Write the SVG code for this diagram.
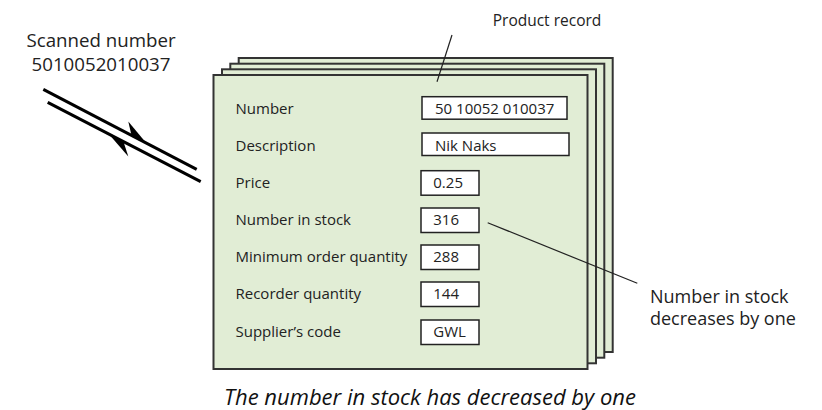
<svg xmlns="http://www.w3.org/2000/svg" width="822" height="410" viewBox="0 0 822 410">
  <style>
    .card { fill: #e1edd5; stroke: #333; stroke-width: 2; }
    .field { fill: #fff; stroke: #222; stroke-width: 1.5; }
    .lbl { font-family: "Open Sans", "Noto Sans", sans-serif; font-size: 15px; fill: #222; }
    .big { font-family: "Open Sans", "Noto Sans", sans-serif; font-size: 18.7px; fill: #222; }
    .note { font-family: "Open Sans", "Noto Sans", sans-serif; font-size: 18px; fill: #222; }
    .cap { font-family: "Open Sans", "Noto Sans", sans-serif; font-size: 22px; font-style: italic; fill: #111; }
    .lead { stroke: #222; stroke-width: 1.2; fill: none; }
    .wire { stroke: #000; stroke-width: 3; fill: none; }
  </style>

  <!-- stack of product record cards, back to front -->
  <g id="record-stack">
    <rect class="card" x="238.7" y="58" width="374" height="294"/>
    <rect class="card" x="230.3" y="63.7" width="374" height="294"/>
    <rect class="card" x="222" y="69.3" width="374" height="294"/>
    <rect class="card" x="213.5" y="75" width="374" height="294"/>
  </g>

  <g id="field-number">
    <text class="lbl" x="235.5" y="114">Number</text>
    <rect class="field" x="422" y="96.7" width="145" height="22.5"/>
    <text class="lbl" x="435" y="114">50 10052 010037</text>
  </g>
  <g id="field-description">
    <text class="lbl" x="235.5" y="150.5">Description</text>
    <rect class="field" x="422" y="133" width="147" height="22.5"/>
    <text class="lbl" x="435" y="150.5">Nik Naks</text>
  </g>
  <g id="field-price">
    <text class="lbl" x="235.5" y="188">Price</text>
    <rect class="field" x="421" y="170.7" width="58" height="24.5"/>
    <text class="lbl" x="433.3" y="188">0.25</text>
  </g>
  <g id="field-stock">
    <text class="lbl" x="235.5" y="225">Number in stock</text>
    <rect class="field" x="421" y="208" width="58" height="24.5"/>
    <text class="lbl" x="433.3" y="225">316</text>
  </g>
  <g id="field-min-order">
    <text class="lbl" x="235.5" y="262">Minimum order quantity</text>
    <rect class="field" x="421" y="245" width="58" height="24.5"/>
    <text class="lbl" x="433.3" y="262">288</text>
  </g>
  <g id="field-reorder">
    <text class="lbl" x="235.5" y="299">Recorder quantity</text>
    <rect class="field" x="421" y="282" width="58" height="24.5"/>
    <text class="lbl" x="433.3" y="299">144</text>
  </g>
  <g id="field-supplier">
    <text class="lbl" x="235.5" y="337">Supplier’s code</text>
    <rect class="field" x="421" y="320" width="58" height="24.5"/>
    <text class="lbl" x="433.3" y="337">GWL</text>
  </g>

  <!-- scanner link: two parallel wires with half arrowheads -->
  <g id="connectors">
    <line class="wire" x1="43.3" y1="89.3" x2="196.7" y2="169.3"/>
    <line class="wire" x1="47.7" y1="102.3" x2="200.7" y2="181.7"/>
    <polygon points="146,142.8 128.3,121.5 131.5,135.5" fill="#000"/>
    <polygon points="109,134.3 128.3,156.5 123.5,141.8" fill="#000"/>
    <line class="lead" x1="452" y1="35" x2="437" y2="81.7"/>
    <line class="lead" x1="487.7" y1="222.7" x2="637.3" y2="283.3"/>
  </g>

  <g id="label-scanned">
    <text class="big" x="101" y="46.7" text-anchor="middle">Scanned number</text>
    <text class="big" x="101" y="70.7" text-anchor="middle">5010052010037</text>
  </g>
  <g id="label-product-record">
    <text class="lbl" x="547" y="26" text-anchor="middle" style="font-size:15.5px">Product record</text>
  </g>
  <g id="label-stock-change">
    <text class="note" x="650" y="302.5">Number in stock</text>
    <text class="note" x="650" y="324.5">decreases by one</text>
  </g>
  <g id="caption">
    <text class="cap" x="430" y="405" text-anchor="middle">The number in stock has decreased by one</text>
  </g>
</svg>
